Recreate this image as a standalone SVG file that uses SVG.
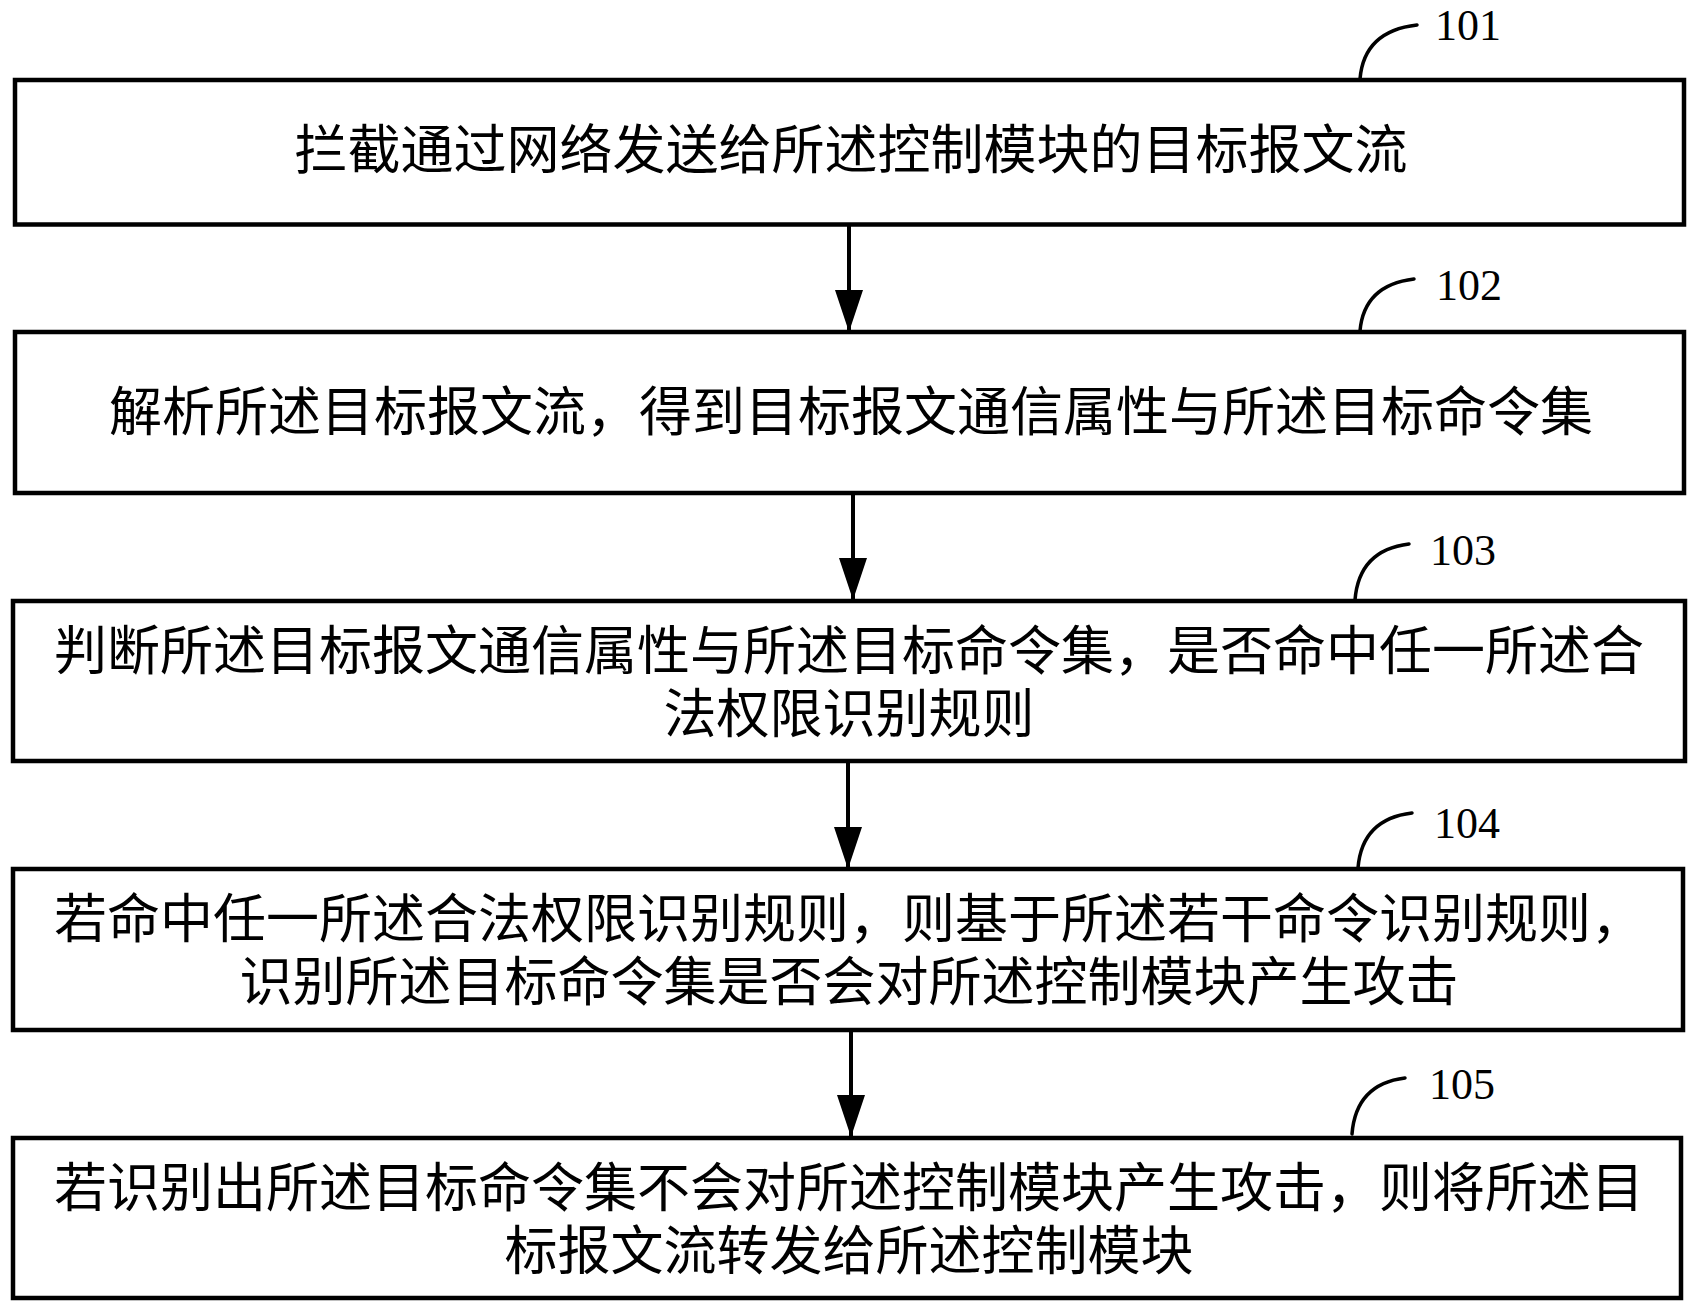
<svg xmlns="http://www.w3.org/2000/svg" width="1695" height="1309" viewBox="0 0 1695 1309">
<style>
.box{fill:#fff;stroke:#000;stroke-width:4.5}
.t{font-family:"Noto Sans CJK SC","Noto Sans CJK JP",sans-serif;font-size:53px;fill:#000;text-anchor:middle}
.lbl{font-family:"Liberation Serif","Times New Roman",serif;font-size:44px;fill:#000}
.lead{fill:none;stroke:#000;stroke-width:3.5;stroke-linecap:round}
.conn{stroke:#000;stroke-width:4;fill:none}
</style>
<defs>
<marker id="ah" markerUnits="userSpaceOnUse" markerWidth="42" markerHeight="28" refX="42" refY="14" viewBox="0 0 42 28" orient="auto">
<path d="M0,0 L42,14 L0,28 Z" fill="#000"/>
</marker>
</defs>
<rect width="1695" height="1309" fill="#fff"/>
<g id="connectors">
<line class="conn" x1="849" y1="226" x2="849" y2="332" marker-end="url(#ah)"/>
<line class="conn" x1="853" y1="495" x2="853" y2="600" marker-end="url(#ah)"/>
<line class="conn" x1="848" y1="763" x2="848" y2="869" marker-end="url(#ah)"/>
<line class="conn" x1="851" y1="1032" x2="851" y2="1137" marker-end="url(#ah)"/>
</g>
<g id="n101">
<rect class="box" x="15" y="80" width="1669" height="144.5"/>
<text class="t" x="851" y="169">拦截通过网络发送给所述控制模块的目标报文流</text>
<path class="lead" d="M1360,79 Q1364,31 1417,25"/>
<text class="lbl" x="1435" y="40">101</text>
</g>
<g id="n102">
<rect class="box" x="15" y="332" width="1669" height="161"/>
<text class="t" x="851" y="431">解析所述目标报文流，得到目标报文通信属性与所述目标命令集</text>
<path class="lead" d="M1360,331 Q1364,285 1414,279"/>
<text class="lbl" x="1436" y="300">102</text>
</g>
<g id="n103">
<rect class="box" x="13" y="601" width="1672" height="160"/>
<text class="t"><tspan x="849" y="670">判断所述目标报文通信属性与所述目标命令集，是否命中任一所述合</tspan><tspan x="849" y="733">法权限识别规则</tspan></text>
<path class="lead" d="M1355,600 Q1359,550 1409,544"/>
<text class="lbl" x="1430" y="565">103</text>
</g>
<g id="n104">
<rect class="box" x="13" y="869" width="1670" height="161"/>
<text class="t"><tspan x="849" y="938">若命中任一所述合法权限识别规则，则基于所述若干命令识别规则，</tspan><tspan x="849" y="1001">识别所述目标命令集是否会对所述控制模块产生攻击</tspan></text>
<path class="lead" d="M1358,868 Q1362,819 1412,813"/>
<text class="lbl" x="1434" y="838">104</text>
</g>
<g id="n105">
<rect class="box" x="13" y="1138" width="1668" height="160"/>
<text class="t"><tspan x="849" y="1207">若识别出所述目标命令集不会对所述控制模块产生攻击，则将所述目</tspan><tspan x="849" y="1270">标报文流转发给所述控制模块</tspan></text>
<path class="lead" d="M1352,1134 Q1356,1084 1405,1078"/>
<text class="lbl" x="1429" y="1099">105</text>
</g>
</svg>
